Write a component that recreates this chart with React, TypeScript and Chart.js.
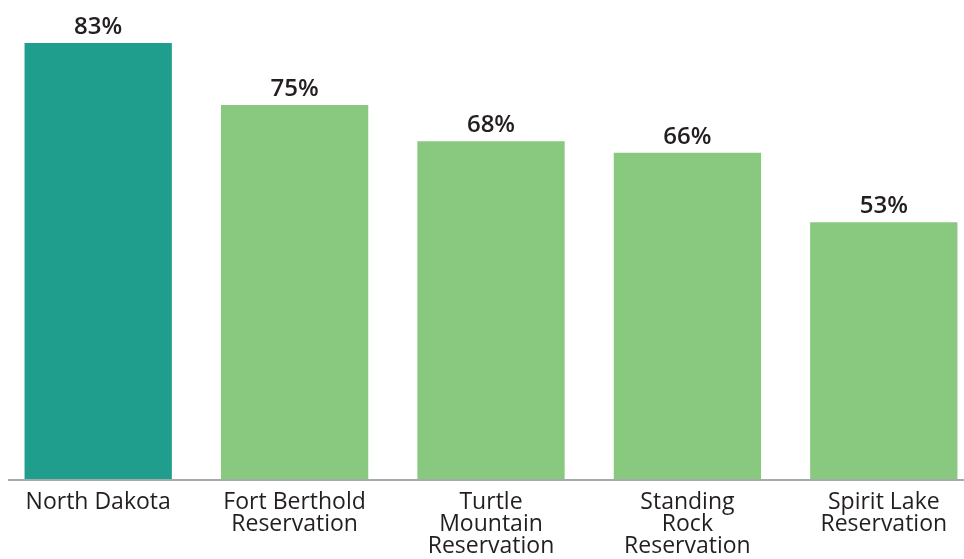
import React, { useEffect, useRef } from "react";
import { Chart, registerables } from "chart.js";

Chart.register(...registerables);

const categories: (string | string[])[] = [
  "North Dakota",
  ["Fort Berthold", "Reservation"],
  ["Turtle", "Mountain", "Reservation"],
  ["Standing", "Rock", "Reservation"],
  ["Spirit Lake", "Reservation"],
];
// bar heights as drawn in the picture (percent)
const barValues = [83, 71.2, 64.3, 62.1, 48.9];
// value labels printed above the bars
const valueLabels = ["83%", "75%", "68%", "66%", "53%"];
const barColors = ["#1f9d8d", "#89c97f", "#89c97f", "#89c97f", "#89c97f"];

const TEXT = "#231f20";

const valueLabelPlugin = {
  id: "valueLabels",
  afterDatasetsDraw(chart: any) {
    const ctx = chart.ctx;
    const meta = chart.getDatasetMeta(0);
    ctx.save();
    ctx.font = "600 24px 'Open Sans'";
    ctx.fillStyle = TEXT;
    ctx.textAlign = "center";
    ctx.textBaseline = "alphabetic";
    meta.data.forEach((el: any, i: number) => {
      ctx.fillText(valueLabels[i], el.x, el.y - 9);
    });
    ctx.restore();
  },
};

const axisLinePlugin = {
  id: "axisLine",
  afterDatasetsDraw(chart: any) {
    const ctx = chart.ctx;
    const y = chart.chartArea.bottom + 1;
    ctx.save();
    ctx.strokeStyle = "#a3abab";
    ctx.lineWidth = 2;
    ctx.beginPath();
    ctx.moveTo(8, y);
    ctx.lineTo(964, y);
    ctx.stroke();
    ctx.restore();
  },
};

export default function App() {
  const ref = useRef<HTMLCanvasElement | null>(null);
  useEffect(() => {
    if (!ref.current) return;
    const chart = new Chart(ref.current, {
      type: "bar",
      data: {
        labels: categories,
        datasets: [
          {
            data: barValues,
            backgroundColor: barColors,
            borderWidth: 0,
            barPercentage: 0.75,
            categoryPercentage: 1,
          },
        ],
      },
      options: {
        animation: false,
        responsive: true,
        maintainAspectRatio: false,
        layout: { padding: { left: 0, right: 0, top: 0, bottom: 0 } },
        plugins: {
          legend: { display: false },
          tooltip: { enabled: false },
        },
        scales: {
          x: {
            grid: { display: false, drawTicks: false, tickLength: 0 },
            border: { display: false },
            ticks: {
              color: TEXT,
              padding: 12,
              maxRotation: 0,
              autoSkip: false,
              font: { family: "'Open Sans'", size: 23, lineHeight: 0.96 },
            },
            afterFit: (scale: any) => {
              scale.height = 80;
            },
          },
          y: {
            display: false,
            min: 0,
            max: 91.2,
          },
        },
      },
      plugins: [valueLabelPlugin, axisLinePlugin],
    });
    return () => chart.destroy();
  }, []);

  return (
    <div
      style={{
        position: "fixed",
        left: 0,
        top: 0,
        width: 964,
        height: 559,
        overflow: "hidden",
        background: "#fff",
      }}
    >
      <div style={{ position: "relative", width: 982, height: 559 }}>
        <canvas ref={ref} />
      </div>
    </div>
  );
}
